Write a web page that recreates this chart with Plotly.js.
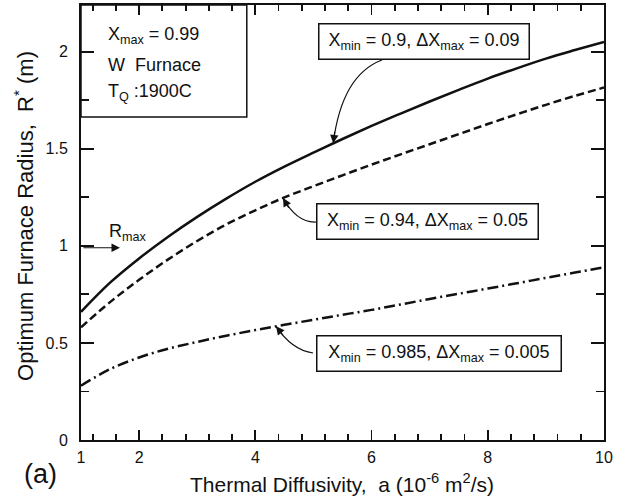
<!DOCTYPE html>
<html>
<head>
<meta charset="utf-8">
<script src="https://cdn.plot.ly/plotly-3.0.1.min.js"></script>
<style>
  html, body { margin: 0; padding: 0; background: #fff; }
  #chart { width: 619px; height: 497px; }
</style>
</head>
<body>
<div id="chart"></div>
<script>
// Thermal diffusivity a (10^-6 m^2/s)
const diffusivity = [1, 1.5, 2, 2.5, 3, 3.5, 4, 4.5, 5, 5.5, 6, 6.5, 7, 7.5, 8, 8.5, 9, 9.5, 10];
// Optimum furnace radius R* (m) for each X_min / dX_max case
const radiusXmin090 = [0.66, 0.81, 0.935, 1.047, 1.149, 1.243, 1.33, 1.408, 1.48, 1.55, 1.617, 1.681, 1.743, 1.803, 1.861, 1.914, 1.964, 2.008, 2.05];
const radiusXmin094 = [0.58, 0.71, 0.825, 0.93, 1.025, 1.11, 1.183, 1.249, 1.307, 1.363, 1.418, 1.471, 1.523, 1.575, 1.627, 1.677, 1.726, 1.772, 1.815];
const radiusXmin0985 = [0.28, 0.365, 0.425, 0.47, 0.505, 0.537, 0.566, 0.593, 0.619, 0.645, 0.67, 0.698, 0.726, 0.753, 0.78, 0.807, 0.835, 0.862, 0.89];

const xTickVals = [1, 2, 4, 6, 8, 10];
const xTickText = ['1', '2', '4', '6', '8', '10'];
const xMinorVals = [1.2, 1.6, 2.4, 2.8, 3.2, 3.6, 4.4, 4.8, 5.2, 5.6, 6.4, 6.8, 7.2, 7.6, 8.4, 8.8, 9.2, 9.6];
const yTickVals = [0, 0.5, 1, 1.5, 2];
const yTickText = ['0', '0.5', '1', '1.5', '2'];
const yMinorVals = [0.25, 0.75, 1.25, 1.75];

const caseLabels = [
  'X<sub>min</sub> = 0.9, \u0394X<sub>max</sub> = 0.09',
  'X<sub>min</sub> = 0.94, \u0394X<sub>max</sub> = 0.05',
  'X<sub>min</sub> = 0.985, \u0394X<sub>max</sub> = 0.005'
];
const infoLines = ['X<sub>max</sub> = 0.99', 'W  Furnace', 'T<sub>Q</sub> :1900C'];

const FONT = 'Liberation Sans, Arial, Helvetica, sans-serif';
const INK = '#111';

// linear interpolation on a series, used to place the leader arrow tips on the curves
function interp(xs, ys, x) {
  for (let i = 0; i < xs.length - 1; i++) {
    if (x >= xs[i] && x <= xs[i + 1]) {
      const t = (x - xs[i]) / (xs[i + 1] - xs[i]);
      return ys[i] + t * (ys[i + 1] - ys[i]);
    }
  }
  return ys[ys.length - 1];
}

const lineBase = { type: 'scatter', mode: 'lines', x: diffusivity, hoverinfo: 'skip', line: { color: INK, width: 2.5, shape: 'spline', smoothing: 1 } };
const traces = [
  Object.assign({}, lineBase, { y: radiusXmin090, line: Object.assign({}, lineBase.line, { dash: 'solid' }) }),
  Object.assign({}, lineBase, { y: radiusXmin094, line: Object.assign({}, lineBase.line, { dash: '8px,4px' }) }),
  Object.assign({}, lineBase, { y: radiusXmin0985, line: Object.assign({}, lineBase.line, { dash: '11px,4px,2px,4px' }) })
];

// curved leaders: [start x, start y, control x, control y, tip x, series, tail dx, tail dy]
const leaders = [
  [6.18, 1.957, 5.49, 1.88, 5.34, radiusXmin090, 1.7, -12.9],
  [5.044, 1.1226, 4.717, 1.117, 4.476, radiusXmin094, 6.6, 11.2],
  [4.993, 0.448, 4.631, 0.463, 4.356, radiusXmin0985, 8, 10.2]
];

const shapes = [
  // info box in the upper-left corner
  { type: 'rect', xref: 'paper', yref: 'paper', x0: 0, x1: 0.317, y0: 0.7425, y1: 1, line: { color: INK, width: 1.5 } }
];
const annotations = [];

leaders.forEach(function (L) {
  const tipY = interp(diffusivity, L[5], L[4]);
  shapes.push({
    type: 'path', xref: 'x', yref: 'y',
    path: 'M ' + L[0] + ',' + L[1] + ' Q ' + L[2] + ',' + L[3] + ' ' + L[4] + ',' + tipY,
    line: { color: INK, width: 1.2 }
  });
  annotations.push({
    x: L[4], y: tipY, xref: 'x', yref: 'y', text: '', showarrow: true,
    ax: L[6], ay: L[7], arrowhead: 2, arrowsize: 1.4, arrowwidth: 1.2, arrowcolor: INK, standoff: 0
  });
});

// labelled boxes for each case
const boxPos = [[0.6555, 0.916, 199], [0.6625, 0.5034, 210], [0.6845, 0.200, 233]];
caseLabels.forEach(function (txt, i) {
  annotations.push({
    xref: 'paper', yref: 'paper', x: boxPos[i][0], y: boxPos[i][1], xanchor: 'center', yanchor: 'middle',
    text: txt, showarrow: false, width: boxPos[i][2], height: 24, align: 'center',
    bordercolor: INK, borderwidth: 1.5, borderpad: 5, bgcolor: '#fff',
    font: { family: FONT, size: 18, color: INK }
  });
});

// corner info text
const infoY = [0.931, 0.862, 0.798];
infoLines.forEach(function (txt, i) {
  annotations.push({
    xref: 'paper', yref: 'paper', x: 0.047, y: infoY[i], xanchor: 'left', yanchor: 'middle',
    text: txt, showarrow: false, font: { family: FONT, size: 18, color: INK }
  });
});

// R_max marker on the vertical axis
annotations.push({
  x: 1.67, y: 0.99, xref: 'x', yref: 'y', text: '', showarrow: true,
  ax: -38, ay: 0, arrowhead: 2, arrowsize: 1.4, arrowwidth: 1.2, arrowcolor: INK, standoff: 0
});
annotations.push({
  x: 1.8, y: 1.07, xref: 'x', yref: 'y', text: 'R<sub>max</sub>', showarrow: false,
  xanchor: 'center', yanchor: 'middle', font: { family: FONT, size: 18, color: INK }
});

// axis titles and panel tag
annotations.push({
  xref: 'paper', yref: 'paper', x: 0.499, y: -0.099, xanchor: 'center', yanchor: 'middle', showarrow: false,
  text: 'Thermal Diffusivity,  a (10<sup>-6</sup> m<sup>2</sup>/s)', font: { family: FONT, size: 21, color: INK }
});
annotations.push({
  xref: 'paper', yref: 'paper', x: -0.109, y: 0.515, xanchor: 'center', yanchor: 'middle', showarrow: false,
  textangle: -90, text: 'Optimum Furnace Radius,  R<sup>*</sup> (m)', font: { family: FONT, size: 22, color: INK }
});
annotations.push({
  xref: 'paper', yref: 'paper', x: -0.078, y: -0.078, xanchor: 'center', yanchor: 'middle', showarrow: false,
  text: '(a)', font: { family: FONT, size: 27, color: INK }
});

const layout = {
  width: 619, height: 497,
  margin: { l: 81, r: 15, t: 5, b: 57 },
  paper_bgcolor: '#fff', plot_bgcolor: '#fff',
  showlegend: false,
  font: { family: FONT, size: 16, color: INK },
  xaxis: {
    range: [1, 10], tickmode: 'array', tickvals: xTickVals, ticktext: xTickText,
    ticks: 'inside', ticklen: 10, tickwidth: 1.8, tickcolor: INK,
    showline: true, linewidth: 2, linecolor: INK, mirror: 'ticks',
    showgrid: false, zeroline: false, ticklabelstandoff: 2,
    minor: { tickmode: 'array', tickvals: xMinorVals, ticks: 'inside', ticklen: 6, tickwidth: 1.8, tickcolor: INK, showgrid: false },
    tickfont: { family: FONT, size: 16, color: INK }
  },
  yaxis: {
    range: [0, 2.24], tickmode: 'array', tickvals: yTickVals, ticktext: yTickText,
    ticks: 'inside', ticklen: 13, tickwidth: 1.8, tickcolor: INK,
    showline: true, linewidth: 2, linecolor: INK, mirror: 'ticks',
    showgrid: false, zeroline: false, ticklabelstandoff: 8,
    minor: { tickmode: 'array', tickvals: yMinorVals, ticks: 'inside', ticklen: 8, tickwidth: 1.8, tickcolor: INK, showgrid: false },
    tickfont: { family: FONT, size: 16, color: INK }
  },
  shapes: shapes,
  annotations: annotations
};

Plotly.newPlot('chart', traces, layout, { staticPlot: true, displayModeBar: false });
</script>
</body>
</html>
